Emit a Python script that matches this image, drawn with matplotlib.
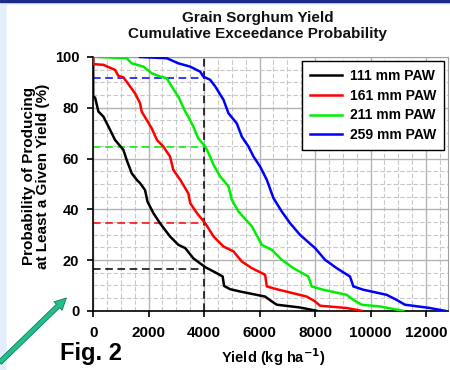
import matplotlib
matplotlib.use("Agg")
import matplotlib.pyplot as plt
from matplotlib.patches import Rectangle, FancyArrowPatch
from matplotlib.ticker import MultipleLocator

plt.rcParams['font.family'] = ['Liberation Sans', 'DejaVu Sans']
plt.rcParams['font.weight'] = 'bold'

# ---- data (yield kg/ha, exceedance %) ----
yield_111 = [0, 0, 70, 190, 370, 610, 790, 1090, 1210, 1390, 1570, 1690, 1870, 1960,
             2170, 2410, 2770, 3070, 3320, 3610, 4040, 4460, 4670, 4720, 4940, 5300,
             6200, 6440, 6620, 7460, 8060]
prob_111 = [100, 84.4, 84, 78.5, 76.5, 71.3, 67.3, 63.4, 59.4, 54.2, 51.6, 50.3, 47.6, 43,
            38.5, 34.5, 29.3, 26, 24.7, 20.7, 17.2, 14.8, 13.5, 9.8, 8.5, 7.6,
            5.6, 3.7, 2.4, 1.3, 0]

yield_161 = [0, 0, 370, 790, 910, 1090, 1330, 1510, 1690, 1750, 1930, 2110, 2300, 2530,
             2770, 2890, 3140, 3430, 3500, 3740, 4040, 4340, 4700, 5060, 5360, 5720,
             6200, 6260, 6620, 7700, 8000, 8180, 9140, 9680]
prob_161 = [100, 97.2, 96.9, 94.9, 92.5, 92, 88.4, 85.7, 81.8, 78.5, 75.2, 71.9, 67.3, 64.7,
            60.8, 55.5, 51.6, 46.3, 42.4, 38.5, 34.5, 29.3, 25.3, 23.4, 19.4, 16.8,
            14.2, 9.6, 8.5, 5.6, 3.7, 2.0, 1.1, 0]

yield_211 = [190, 1210, 1390, 1810, 2110, 2410, 2660, 2830, 3070, 3320, 3430, 3610, 3790,
             4040, 4160, 4340, 4580, 4880, 5000, 5240, 5720, 6080, 6440, 6800, 7220,
             7760, 7880, 8290, 9140, 9380, 9680, 10340, 11180]
prob_211 = [100, 99.5, 97.5, 96.2, 93.6, 92.3, 91.6, 88.4, 84.4, 78.5, 76.5, 72.6, 67.9,
            64.7, 62.1, 57.5, 52.9, 49, 43.7, 39.1, 33.3, 26, 24, 20.1, 16.8,
            13.5, 9.6, 8.3, 6.3, 4.3, 2.4, 1.7, 0]

yield_259 = [1690, 2660, 3070, 3500, 3860, 3970, 4220, 4400, 4700, 4880, 5180, 5360, 5600,
             5780, 6020, 6260, 6500, 6800, 7100, 7460, 8000, 8360, 8780, 9260, 9380,
             9740, 10580, 10940, 11240, 12140, 12680]
prob_259 = [100, 99.5, 97.5, 96.2, 94.2, 92.3, 91, 88.4, 83.1, 77.8, 73.8, 68.6, 64.7,
            60.8, 56.8, 51.6, 44.4, 39.1, 34.5, 29.9, 24.7, 20.1, 16.8, 13.5, 9.6,
            8.3, 6.3, 4.3, 2.4, 1.1, 0]

labels = ['111 mm PAW', '161 mm PAW', '211 mm PAW', '259 mm PAW']
colors = ['black', '#ff0000', '#00ee00', '#0000ff']
ref_yield = 4000
ref_probs = [16.5, 34.5, 64.7, 91.9]

fig = plt.figure(figsize=(4.5, 3.7), dpi=100)

# background: navy strip on top, light blue border, white panel
fig.patches.append(Rectangle((0, 0), 1, 1, transform=fig.transFigure,
                             color='#e3eefc', zorder=-3))
fig.patches.append(Rectangle((0, 0.995), 1, 0.005, transform=fig.transFigure,
                             color='#1a2a8a', zorder=-2))
fig.patches.append(Rectangle((0.016, 0), 0.984, 0.986, transform=fig.transFigure,
                             color='white', zorder=-2))

ax = fig.add_axes([0.207, 0.16, 0.789, 0.686])

series = [(yield_111, prob_111), (yield_161, prob_161),
          (yield_211, prob_211), (yield_259, prob_259)]
for (xs, ys), c, lab in zip(series, colors, labels):
    ax.plot(xs, ys, color=c, lw=1.8, label=lab, zorder=3)

# reference lines at 4000 kg/ha
ax.plot([ref_yield, ref_yield], [0, 100], color='black', lw=1.1,
        ls=(0, (5, 3)), zorder=2)
for p, c in zip(ref_probs, colors):
    ax.plot([0, ref_yield], [p, p], color=c, lw=1.1, ls=(0, (5, 3)), zorder=2)

ax.set_xlim(0, 12800)
ax.set_ylim(0, 100)
ax.xaxis.set_major_locator(MultipleLocator(2000))
ax.xaxis.set_minor_locator(MultipleLocator(500))
ax.yaxis.set_major_locator(MultipleLocator(20))
ax.yaxis.set_minor_locator(MultipleLocator(5))
ax.grid(which='major', color='#b4b4b4', lw=1.0, ls='-', zorder=0)
ax.grid(which='minor', color='#c8c8c8', lw=0.8, ls=(0, (4, 2)), zorder=0)
ax.set_axisbelow(True)

for s in ['top', 'right']:
    ax.spines[s].set_color('#a0a0a0')
    ax.spines[s].set_linewidth(0.8)
for s in ['left', 'bottom']:
    ax.spines[s].set_color('black')
    ax.spines[s].set_linewidth(1.2)
ax.tick_params(which='major', direction='out', length=4, width=1.2)
ax.tick_params(axis='x', which='major', labelsize=11, pad=7)
ax.tick_params(axis='y', which='major', labelsize=10.5, pad=6)
ax.tick_params(which='minor', length=0)
for t in ax.get_xticklabels() + ax.get_yticklabels():
    t.set_fontweight('bold')

leg = ax.legend(loc='upper right', fontsize=10, frameon=True, fancybox=False,
                edgecolor='black', framealpha=1, handlelength=2.3,
                handletextpad=0.6, borderaxespad=0.3, labelspacing=0.42,
                borderpad=0.55)
leg.get_frame().set_linewidth(1.0)
for t in leg.get_texts():
    t.set_fontweight('bold')

fig.text(0.572, 0.951, 'Grain Sorghum Yield', ha='center', va='center',
         fontsize=11, fontweight='bold', color='#111111')
fig.text(0.572, 0.908, 'Cumulative Exceedance Probability', ha='center',
         va='center', fontsize=11, fontweight='bold', color='#111111')
fig.text(0.608, 0.035, 'Yield (kg ha$^{\\mathbf{-1}}$)', ha='center', va='center',
         fontsize=10.5, fontweight='bold')
fig.text(0.08, 0.524, 'Probability of Producing\nat Least a Given Yield (%)',
         ha='center', va='center', rotation=90, fontsize=11,
         fontweight='bold', linespacing=1.05)
fig.text(0.133, 0.045, 'Fig. 2', ha='left', va='center', fontsize=17,
         fontweight='bold')

arrow = FancyArrowPatch((-0.005, 0.015), (0.152, 0.2), transform=fig.transFigure,
                        arrowstyle='simple,head_width=0.6,head_length=0.6,tail_width=0.25',
                        mutation_scale=14, facecolor='#1fc08e', edgecolor='#0f7a5a',
                        lw=0.6)
fig.patches.append(arrow)

fig.savefig('out.png', dpi=100)
